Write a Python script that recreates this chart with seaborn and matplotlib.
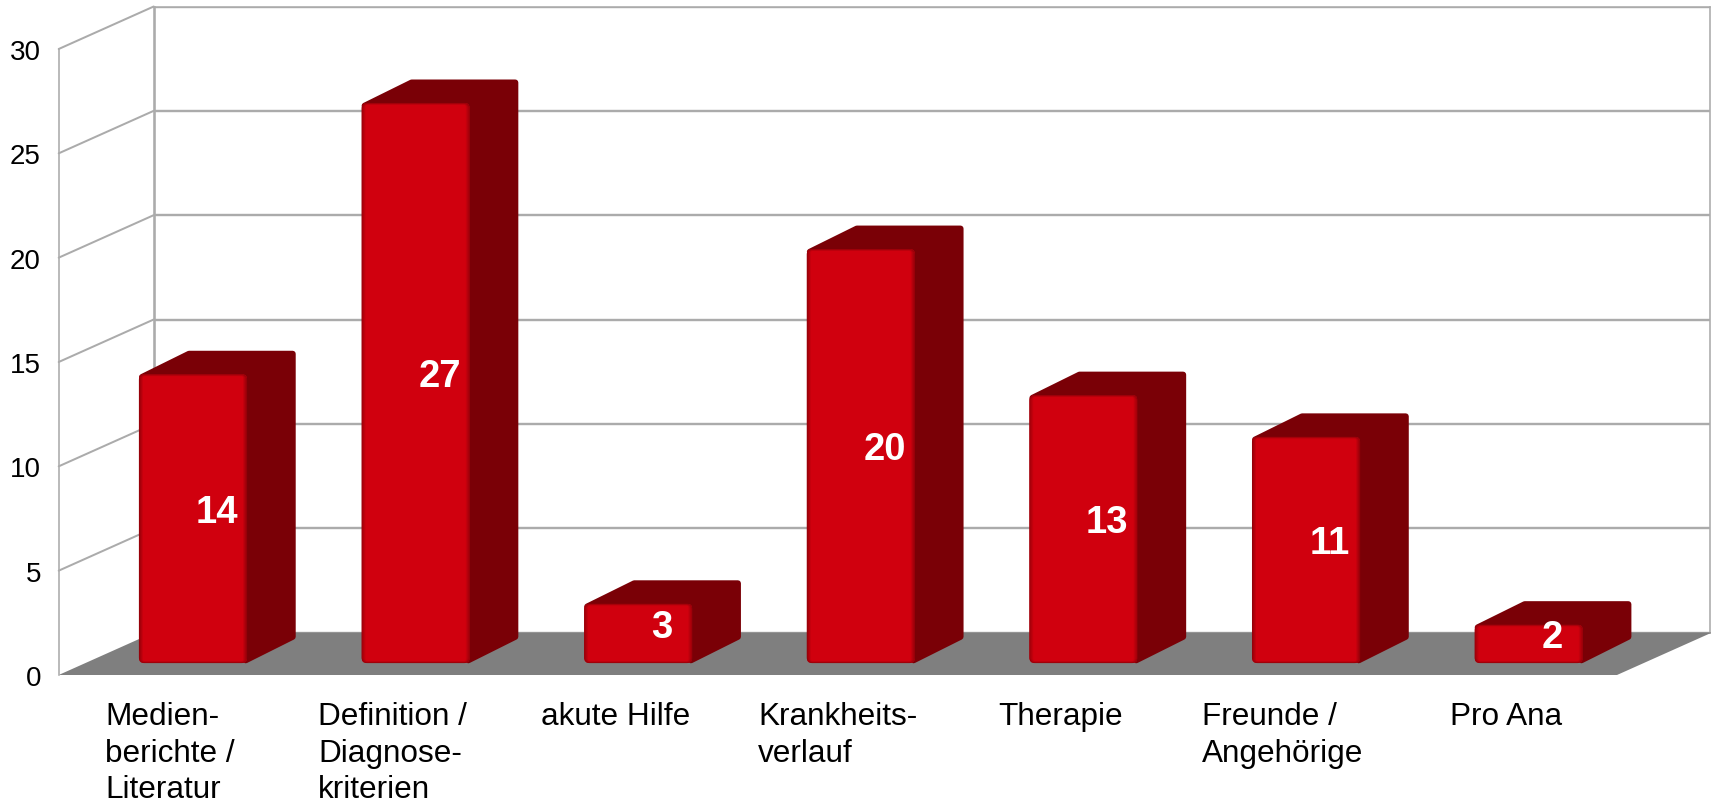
import numpy as np
import matplotlib
matplotlib.use("Agg")
import matplotlib.pyplot as plt
from matplotlib.colors import to_rgb
from matplotlib.patches import FancyBboxPatch, Polygon
from matplotlib.transforms import Affine2D
from matplotlib.lines import Line2D
import seaborn as sns

categories = ["Medien-\nberichte /\nLiteratur", "Definition /\nDiagnose-\nkriterien", "akute Hilfe",
              "Krankheits-\nverlauf", "Therapie", "Freunde /\nAngehörige", "Pro Ana"]
values = [14, 27, 3, 20, 13, 11, 2]
y_ticks = [0, 5, 10, 15, 20, 25, 30]

W, H, DPI = 1711, 803, 100
sns.set_theme(style="white")
plt.rcParams["font.family"] = ["Liberation Sans", "DejaVu Sans"]

GRID, FLOOR, FACE, EDGE, SIDE = "#ababab", "#7f7f7f", "#d0000e", "#960009", "#7a0006"
PX = 72 / DPI
FRONT_L, FRONT_R, FRONT_B, FRONT_T = 58.7, 1617.0, 676.0, 50.0
BACK_DX, BACK_DY = 95.0, 42.5
BAR_DX, BAR_DY = 48.7, 23.5
BAR_SHIFT_X, BAR_SHIFT_Y = 23.0, 8.6
BAR_FLOOR = 664.0

fig = plt.figure(figsize=(W / DPI, H / DPI), dpi=DPI, facecolor="white")
def place(l, t, r, b):
    return [l / W, 1 - b / H, (r - l) / W, (b - t) / H]
to_disp = Affine2D().scale(1, -1).translate(0, H)

# back wall with a real grid
ax_back = fig.add_axes(place(FRONT_L + BACK_DX, FRONT_T - BACK_DY, W - 1, FRONT_B - BACK_DY), zorder=0)
ax_back.set_xlim(0, 1); ax_back.set_ylim(0, 30)
ax_back.set_yticks(y_ticks); ax_back.set_xticks([])
ax_back.tick_params(left=False, labelleft=False)
ax_back.grid(True, axis="y", color=GRID, lw=2.4 * PX)
for s in ax_back.spines.values():
    s.set_color(GRID); s.set_linewidth(1.6 * PX)
ax_back.spines["left"].set_linewidth(2.6 * PX)

# front plane: tick labels, floor, side wall
ax = fig.add_axes(place(FRONT_L, FRONT_T, FRONT_R, FRONT_B), zorder=1)
ax.patch.set_alpha(0)
ax.set_xlim(-0.5, len(values) - 0.5); ax.set_ylim(0, 30)
ax.set_yticks(y_ticks)
ax.set_xticks(range(len(values)), categories)
ax.tick_params(length=0)
ax.tick_params(axis="y", labelsize=20, pad=12.8, labelcolor="black")
ax.tick_params(axis="x", labelsize=22.7, pad=19, labelcolor="black")
plt.setp(ax.get_xticklabels(), linespacing=1.28, multialignment="left", va="top")
for s in ("top", "right", "bottom"):
    ax.spines[s].set_visible(False)
ax.spines["left"].set_color(GRID); ax.spines["left"].set_linewidth(1.6 * PX)

floor = Polygon([(FRONT_L, FRONT_B), (FRONT_R, FRONT_B),
                 (FRONT_R + BACK_DX, FRONT_B - BACK_DY), (FRONT_L + BACK_DX, FRONT_B - BACK_DY)],
                closed=True, fc=FLOOR, ec="none", transform=to_disp, clip_on=False, zorder=1)
ax.add_patch(floor)
for v in y_ticks[1:]:
    y = H - ax.transData.transform((0, v))[1]
    ax.add_line(Line2D([FRONT_L, FRONT_L + BACK_DX], [y, y - BACK_DY], color=GRID, lw=2.0 * PX,
                       transform=to_disp, clip_on=False, zorder=1))

# bars in an axes shifted into the depth of the floor
ax_bar = fig.add_axes(place(FRONT_L + BAR_SHIFT_X, FRONT_T - BAR_SHIFT_Y, FRONT_R + BAR_SHIFT_X, FRONT_B - BAR_SHIFT_Y), zorder=2)
ax_bar.patch.set_alpha(0)
sns.barplot(x=list(range(len(values))), y=values, color=FACE, saturation=1, width=108 / 222.6,
            linewidth=0, ax=ax_bar, zorder=3, legend=False)
ax_bar.set_xlim(-0.5, len(values) - 0.5); ax_bar.set_ylim(0, 30)
ax_bar.axis("off")

RINGS = 5
c0, c1 = np.array(to_rgb(EDGE)), np.array(to_rgb(FACE))
for i, (bar, v) in enumerate(zip(list(ax_bar.patches), values)):
    (x0, _), (x1, y_top) = ax_bar.transData.transform(
        [(bar.get_x(), 0), (bar.get_x() + bar.get_width(), v)])
    y_top = H - y_top
    sil = [(x0 + 3, y_top + 2.7), (x0 + BAR_DX + 1.3, y_top - BAR_DY + 3),
           (x1 + BAR_DX - 3, y_top - BAR_DY + 3), (x1 + BAR_DX - 3, BAR_FLOOR - BAR_DY - 2.7),
           (x1 - 1.3, BAR_FLOOR - 2.7), (x1, y_top)]
    ax_bar.add_patch(Polygon(sil, closed=True, fc=SIDE, ec=SIDE, lw=6 * PX, joinstyle="round",
                             transform=to_disp, clip_on=False, zorder=2))
    clip = FancyBboxPatch((x0, y_top), x1 - x0, BAR_FLOOR - y_top,
                          boxstyle="round,pad=0,rounding_size=5", transform=to_disp)
    bar.set_clip_path(clip)
    for k in range(RINGS):
        col = c0 + (c1 - c0) * k / (RINGS - 1)
        ring = FancyBboxPatch((x0 + k + 0.5, y_top + (k * 0.5) + 0.5), x1 - x0 - 2 * k - 1,
                              BAR_FLOOR - y_top - k - 1,
                              boxstyle="round,pad=0,rounding_size=%g" % max(5 - k, 0.5),
                              fc="none", ec=col, lw=1.2 * PX, transform=to_disp, clip_on=False, zorder=4)
        ax_bar.add_patch(ring)
    cx = (x0 + x1) / 2 + BAR_DX / 2 - 0.5
    cy = (y_top - BAR_DY + BAR_FLOOR) / 2 + 5
    ax_bar.text(cx, cy, str(v), color="white", fontsize=27.5, fontweight="bold", ha="center",
                va="center", transform=to_disp, zorder=6, clip_on=False)

fig.savefig("out.png", dpi=DPI)
